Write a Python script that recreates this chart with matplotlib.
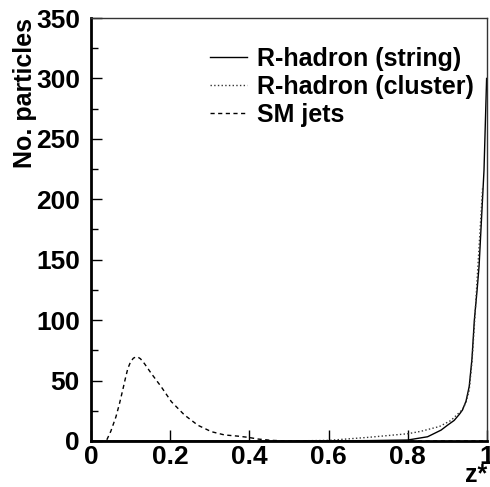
import numpy as np
import matplotlib.pyplot as plt
from matplotlib.ticker import MultipleLocator

plt.rcParams['font.family'] = ['Liberation Sans', 'DejaVu Sans']
plt.rcParams['font.weight'] = 'bold'

# SM jets (dashed)
z_sm = [0.04, 0.05, 0.063, 0.072, 0.08, 0.087, 0.093, 0.1, 0.107, 0.113,
        0.118, 0.125, 0.135, 0.152, 0.177, 0.203, 0.236, 0.27, 0.304, 0.337,
        0.371, 0.397, 0.422, 0.456, 0.5, 1.0]
n_sm = [1, 8, 20, 31, 42, 52, 60, 65.5, 68.5, 69.5,
        69.5, 68, 64, 56, 45, 32.5, 21.5, 13, 7.7, 5,
        4, 3, 1.6, 0.5, 0, 0]

# R-hadron, string fragmentation (solid)
z_str = [0.0, 0.5, 0.7, 0.8, 0.85, 0.884, 0.9, 0.917, 0.93, 0.938, 0.947,
         0.955, 0.962, 0.968, 0.975, 0.98, 0.9924, 0.999]
n_str = [0, 0, 0.3, 0.8, 3.5, 9, 13, 17, 22, 25.6, 33,
         45, 68, 100, 125, 145, 224, 300]

# R-hadron, cluster fragmentation (dotted)
z_clu = [0.0, 0.5, 0.6, 0.7, 0.8, 0.833, 0.88, 0.909, 0.938, 0.947, 0.955,
         0.962, 0.968, 0.978, 0.989]
n_clu = [0, 0, 0.5, 3, 6, 8, 12, 17, 26, 32, 42,
         65, 95, 150, 210]

fig = plt.figure(figsize=(4.90, 4.87), dpi=100)
ax = fig.add_axes([0.1857, 0.0945, 0.8082, 0.8685])

ax.plot(z_str, n_str, '-', color='black', lw=1.0, label='R-hadron (string)')
ax.plot(z_clu, n_clu, ':', color='#333333', lw=1.0, label='R-hadron (cluster)')
ax.plot(z_sm, n_sm, '--', color='black', lw=1.0, dashes=(3, 2.5), label='SM jets')

ax.set_xlim(0, 1)
ax.set_ylim(0, 350)
ax.yaxis.set_major_locator(MultipleLocator(50))
ax.yaxis.set_minor_locator(MultipleLocator(25))
ax.set_xticks([0, 0.2, 0.4, 0.6, 0.8, 1])
ax.set_xticklabels(['0', '0.2', '0.4', '0.6', '0.8', '1'])

ax.tick_params(axis='both', which='both', direction='in', labelsize=19)
ax.tick_params(axis='both', which='major', length=8, width=1)
ax.tick_params(axis='y', which='minor', length=5, width=1)
ax.tick_params(axis='x', pad=3)
ax.tick_params(axis='y', pad=8)

for s in ['left', 'bottom']:
    ax.spines[s].set_linewidth(2.0)
for s in ['top', 'right']:
    ax.spines[s].set_linewidth(1.0)
    ax.spines[s].set_color('#333333')

ax.set_ylabel('No. particles', fontsize=18, fontweight='bold', loc='top', labelpad=-1)
fig.text(0.994, 0.01, 'z*', fontsize=18, fontweight='bold', ha='right', va='baseline')

leg = ax.legend(loc='upper left', bbox_to_anchor=(0.30, 0.931), frameon=False,
                fontsize=18, handlelength=1.5, handletextpad=0.4,
                labelspacing=0.15, borderaxespad=0.0, borderpad=0.0)
for t in leg.get_texts():
    t.set_fontweight('bold')

fig.savefig('out.png', dpi=100)
